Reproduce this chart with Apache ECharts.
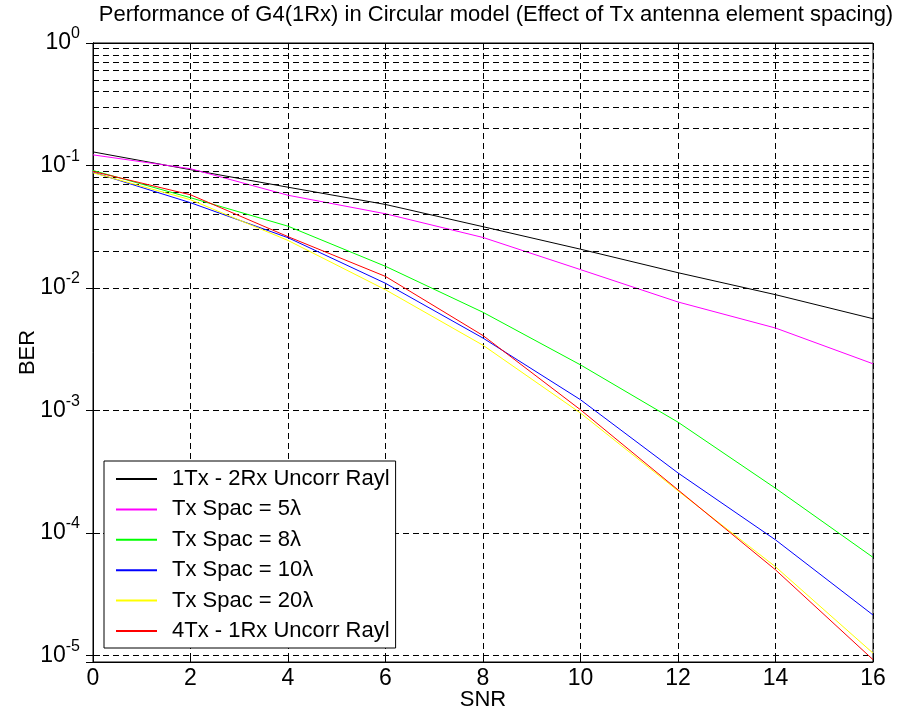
<!DOCTYPE html>
<html>
<head>
<meta charset="utf-8">
<script src="https://cdn.jsdelivr.net/npm/echarts@6/dist/echarts.min.js"></script>
<style>
html,body{margin:0;padding:0;background:#fff;}
#chart{width:903px;height:726px;}
</style>
</head>
<body>
<div id="chart"></div>
<script>
// ---- data ----
var snr = [0, 2, 4, 6, 8, 10, 12, 14, 16];
var seriesNames = [
  '1Tx - 2Rx Uncorr Rayl',
  'Tx Spac = 5\u03bb',
  'Tx Spac = 8\u03bb',
  'Tx Spac = 10\u03bb',
  'Tx Spac = 20\u03bb',
  '4Tx - 1Rx Uncorr Rayl'
];
var berRx2Uncorr = [0.129, 0.0923, 0.0664, 0.048, 0.0316, 0.0207, 0.0133, 0.0088, 0.0056];
var berSpac5 = [0.122, 0.094, 0.0571, 0.0403, 0.0258, 0.0141, 0.00767, 0.0047, 0.0024];
var berSpac8 = [0.091, 0.0545, 0.0319, 0.015, 0.00632, 0.00235, 0.0008, 0.000231, 6.3e-5];
var berSpac10 = [0.088, 0.0496, 0.0257, 0.0109, 0.00389, 0.00122, 0.000308, 8.75e-5, 2.13e-5];
var berSpac20 = [0.0871, 0.0525, 0.0244, 0.00965, 0.0034, 0.00095, 0.00022, 5.27e-5, 1.04e-5];
var berTx4Uncorr = [0.0893, 0.0576, 0.0262, 0.0124, 0.00408, 0.00101, 0.000224, 4.98e-5, 9.2e-6];
var xTicks = [0, 2, 4, 6, 8, 10, 12, 14, 16];
var yMajorExp = [0, -1, -2, -3, -4, -5];
var yMinorMult = [2, 3, 4, 5, 6, 7, 8, 9];
var yMin = 8.8e-6, yMax = 1;

var colors = ['#000000', '#ff00ff', '#00ff00', '#0000ff', '#ffff00', '#ff0000'];
var allData = [berRx2Uncorr, berSpac5, berSpac8, berSpac10, berSpac20, berTx4Uncorr];

var FONT = "'Liberation Sans', Arial, sans-serif";

// minor grid values
var minorVals = [];
yMajorExp.forEach(function (e) {
  if (e === 0) return;
  yMinorMult.forEach(function (m) { minorVals.push(m * Math.pow(10, e)); });
});

var series = allData.map(function (d, i) {
  return {
    name: seriesNames[i],
    type: 'line',
    data: d.map(function (v, j) { return [snr[j], v]; }),
    symbol: 'none',
    showSymbol: false,
    lineStyle: { color: colors[i], width: 1 },
    itemStyle: { color: colors[i] },
    z: 3 + i,
    animation: false
  };
});
// minor dashed gridlines
series.push({
  type: 'line',
  data: [],
  silent: true,
  markLine: {
    silent: true,
    symbol: 'none',
    animation: false,
    label: { show: false },
    lineStyle: { color: '#000', width: 1, type: [6, 4] },
    data: minorVals.map(function (v) { return { yAxis: v }; })
  },
  z: 1
});

var chart = echarts.init(document.getElementById('chart'), null, { renderer: 'canvas' });
chart.setOption({
  backgroundColor: '#fff',
  animation: false,
  title: {
    text: 'Performance of G4(1Rx) in Circular model (Effect of Tx antenna element spacing)',
    left: 491, top: -1, textAlign: 'center',
    textStyle: { fontFamily: FONT, fontSize: 22, fontWeight: 'normal', color: '#000' }
  },
  legend: {
    orient: 'vertical',
    left: 104, top: 461,
    padding: [7, 6, 6, 12],
    itemWidth: 41, itemHeight: 2,
    itemGap: 8.4,
    icon: 'rect',
    backgroundColor: '#fff',
    borderColor: '#000', borderWidth: 1,
    textStyle: { fontFamily: FONT, fontSize: 22, color: '#000', padding: [0, 0, 0, 10] },
    data: seriesNames,
    z: 20
  },
  grid: { left: 93, top: 43, right: 30, bottom: 64, show: true, borderColor: '#000', borderWidth: 1, backgroundColor: 'transparent' },
  xAxis: [{
    type: 'value', min: 0, max: 16, interval: 2,
    name: 'SNR', nameLocation: 'middle', nameGap: 27, nameMoveOverlap: false,
    nameTextStyle: { fontFamily: FONT, fontSize: 22, color: '#000' },
    axisLine: { lineStyle: { color: '#000', width: 1 } },
    axisTick: { inside: true, length: 7, lineStyle: { color: '#000' } },
    axisLabel: { fontFamily: FONT, fontSize: 23, color: '#000', margin: 5 },
    splitLine: { show: true, lineStyle: { color: '#000', width: 1, type: [6, 4] } }
  }, {
    type: 'value', min: 0, max: 16, interval: 2, position: 'top',
    axisLine: { show: true, lineStyle: { color: '#000' } },
    axisTick: { inside: true, length: 7, lineStyle: { color: '#000' } },
    axisLabel: { show: false },
    splitLine: { show: false }
  }],
  yAxis: [{
    type: 'log', logBase: 10, min: yMin, max: yMax,
    name: 'BER', nameLocation: 'middle', nameGap: 54, nameMoveOverlap: false,
    nameTextStyle: { fontFamily: FONT, fontSize: 22, color: '#000' },
    axisLine: { show: true, lineStyle: { color: '#000', width: 1 } },
    axisTick: { inside: true, length: 7, lineStyle: { color: '#000' } },
    axisLabel: {
      margin: 13,
      formatter: function (v) {
        var e = Math.log10(v);
        var r = Math.round(e);
        if (Math.abs(e - r) > 1e-6) return '';
        return '{b|10}{s|' + r + '}';
      },
      rich: {
        b: { fontFamily: FONT, fontSize: 23, color: '#000', lineHeight: 34, verticalAlign: 'middle' },
        s: { fontFamily: FONT, fontSize: 16, color: '#000', lineHeight: 14, verticalAlign: 'top' }
      }
    },
    splitLine: { show: true, lineStyle: { color: '#000', width: 1, type: [6, 4] } }
  }, {
    type: 'log', logBase: 10, min: yMin, max: yMax, position: 'right',
    axisLine: { show: true, lineStyle: { color: '#000' } },
    axisTick: { inside: true, length: 7, lineStyle: { color: '#000' } },
    axisLabel: { show: false },
    splitLine: { show: false }
  }],
  series: series
});
</script>
</body>
</html>
